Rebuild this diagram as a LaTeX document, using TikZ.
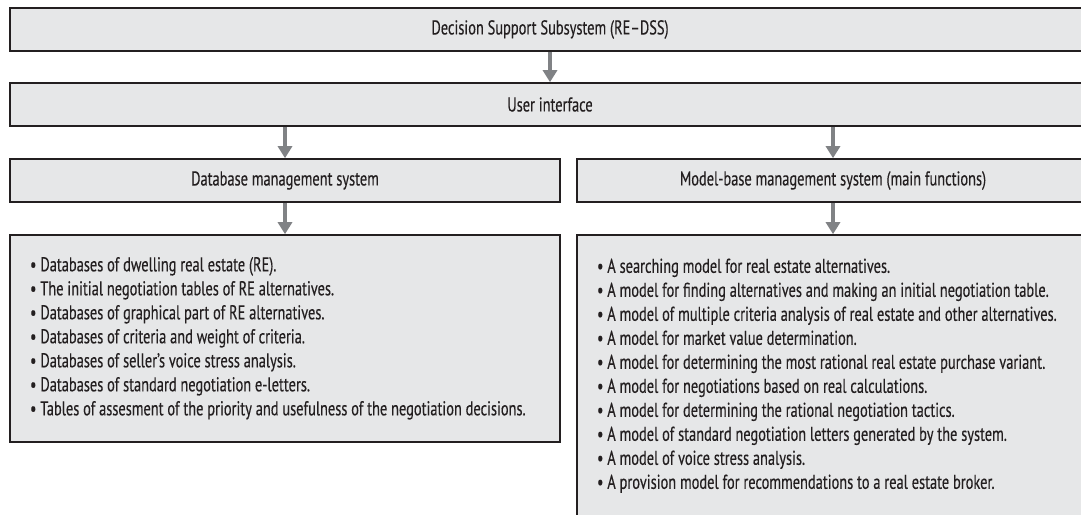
\documentclass[tikz,border=0pt]{standalone}
\usepackage{fontspec}
\setmainfont{PT Sans}[FakeStretch=0.72,FakeBold=0.3]
\usetikzlibrary{arrows.meta}
\definecolor{boxfill}{HTML}{E6E7E8}
\definecolor{boxline}{HTML}{231F20}
\definecolor{arrowgray}{HTML}{808285}
\definecolor{txt}{HTML}{231F20}
\begin{document}
\begin{tikzpicture}[x=1pt,y=-1pt,
  box/.style={draw=boxline, line width=1.6pt, fill=boxfill, inner sep=0pt,
    font=\fontsize{20}{24}\selectfont, text=txt},
  conn/.style={draw=arrowgray, line width=4.5pt, -{Triangle[length=12pt,width=14pt]}}]
\useasboundingbox (0,0) rectangle (1081,514);
\clip (0,0) rectangle (1081,514);
\node[box, minimum width=1080pt, minimum height=43pt] (dss) at (550,29.5) {Decision Support Subsystem (RE--DSS)};
\node[box, minimum width=1080pt, minimum height=43pt] (ui) at (550,104.5) {User interface};
\node[box, minimum width=550pt, minimum height=43pt] (db) at (285,180.5) {Database management system};
\node[box, minimum width=512pt, minimum height=43pt] (mb) at (833,180.5) {Model-base management system (main functions)};
\node[box, minimum width=550pt, minimum height=207pt] (dblist) at (285,338.5) {\makebox[510pt][l]{\begin{tabular}{@{}l@{}}
• Databases of dwelling real estate (RE).\\
• The initial negotiation tables of RE alternatives.\\
• Databases of graphical part of RE alternatives.\\
• Databases of criteria and weight of criteria.\\
• Databases of seller's voice stress analysis.\\
• Databases of standard negotiation e-letters.\\
• Tables of assesment of the priority and usefulness of the negotiation decisions.
\end{tabular}}};
\node[box, minimum width=512pt, minimum height=282pt] (mblist) at (833,376) {\makebox[472pt][l]{\begin{tabular}{@{}l@{}}
• A searching model for real estate alternatives.\\
• A model for finding alternatives and making an initial negotiation table.\\
• A model of multiple criteria analysis of real estate and other alternatives.\\
• A model for market value determination.\\
• A model for determining the most rational real estate purchase variant.\\
• A model for negotiations based on real calculations.\\
• A model for determining the rational negotiation tactics.\\
• A model of standard negotiation letters generated by the system.\\
• A model of voice stress analysis.\\
• A provision model for recommendations to a real estate broker.
\end{tabular}}};
\draw[conn] (dss.south) -- (ui.north);
\draw[conn] (ui.south -| db.north) -- (db.north);
\draw[conn] (ui.south -| mb.north) -- (mb.north);
\draw[conn] (db.south) -- (dblist.north);
\draw[conn] (mb.south) -- (mblist.north);
\end{tikzpicture}
\end{document}
